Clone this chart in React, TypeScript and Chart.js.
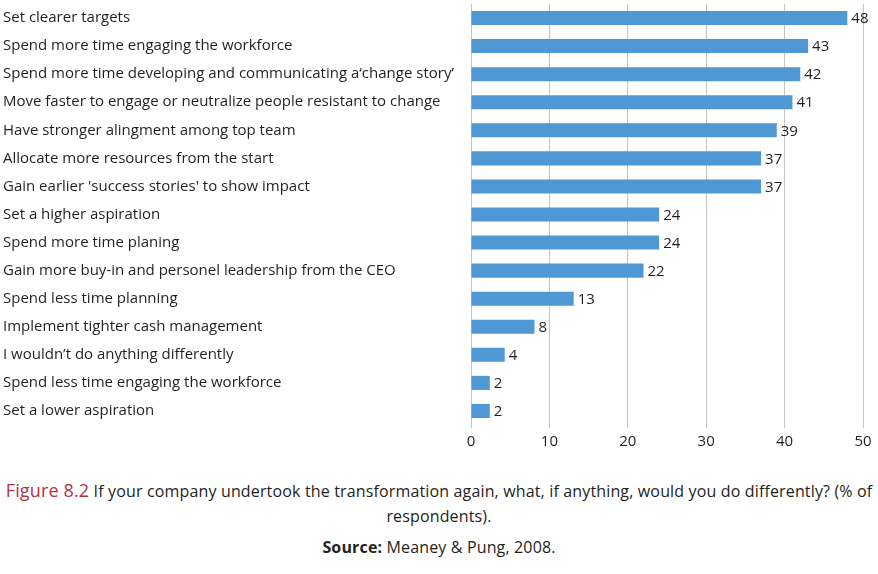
import React, { useEffect, useRef } from "react";
import { Chart, registerables } from "chart.js";

Chart.register(...registerables);

const categories: string[] = [
  "Set clearer targets",
  "Spend more time engaging the workforce",
  "Spend more time developing and communicating a\u2018change story\u2019",
  "Move faster to engage or neutralize people resistant to change",
  "Have stronger alingment among top team",
  "Allocate more resources from the start",
  "Gain earlier 'success stories' to show impact",
  "Set a higher aspiration",
  "Spend more time planing",
  "Gain more buy-in and personel leadership from the CEO",
  "Spend less time planning",
  "Implement tighter cash management",
  "I wouldn\u2019t do anything differently",
  "Spend less time engaging the workforce",
  "Set a lower aspiration",
];

const values: number[] = [48, 43, 42, 41, 39, 37, 37, 24, 24, 22, 13.1, 8.1, 4.3, 2.4, 2.4];

const xTicks: number[] = [0, 10, 20, 30, 40, 50];

const FONT = "'Open Sans', 'Noto Sans', sans-serif";
const TEXT = "#231f20";

const valueLabels = {
  id: "valueLabels",
  afterDatasetsDraw(chart: any) {
    const ctx = chart.ctx;
    const meta = chart.getDatasetMeta(0);
    ctx.save();
    ctx.font = `15px ${FONT}`;
    ctx.fillStyle = TEXT;
    ctx.textAlign = "left";
    ctx.textBaseline = "middle";
    meta.data.forEach((bar: any, i: number) => {
      ctx.fillText(String(Math.round(values[i])), bar.x + 4, bar.y + 1);
    });
    ctx.restore();
  },
};

export default function App() {
  const ref = useRef<HTMLCanvasElement | null>(null);

  useEffect(() => {
    document.body.style.margin = "0";
    if (!ref.current) return;
    const chart = new Chart(ref.current, {
      type: "bar",
      data: {
        labels: categories,
        datasets: [
          {
            data: values,
            backgroundColor: "#4f98d3",
            barPercentage: 0.5,
            categoryPercentage: 1,
          },
        ],
      },
      options: {
        indexAxis: "y",
        animation: false,
        responsive: false,
        maintainAspectRatio: false,
        layout: { padding: { left: 3, right: 15, top: 4, bottom: 0 } },
        plugins: {
          legend: { display: false },
          tooltip: { enabled: false },
        },
        scales: {
          x: {
            min: 0,
            max: 50,
            afterBuildTicks: (scale: any) => {
              scale.ticks = xTicks.map((v) => ({ value: v }));
            },
            afterFit: (scale: any) => {
              scale.height = 35;
              scale.paddingLeft = 0;
              scale.paddingRight = 0;
            },
            grid: {
              color: "#c4c4c4",
              lineWidth: 1,
              drawTicks: true,
              tickLength: 3,
            },
            border: { display: false },
            ticks: {
              padding: 5,
              color: TEXT,
              font: { family: FONT, size: 15 },
            },
          },
          y: {
            afterFit: (scale: any) => {
              scale.width = 468;
              scale.paddingTop = 0;
              scale.paddingBottom = 0;
            },
            grid: { display: false },
            border: { display: false },
            ticks: {
              crossAlign: "far",
              color: TEXT,
              autoSkip: false,
              font: { family: FONT, size: 15 },
            },
          },
        },
      },
      plugins: [valueLabels],
    });
    return () => chart.destroy();
  }, []);

  return (
    <div style={{ width: 878, height: 574, position: "relative", background: "#fff" }}>
      <canvas ref={ref} width={878} height={460} style={{ display: "block" }} />
      <div
        style={{
          position: "absolute",
          top: 478,
          left: 0,
          width: 878,
          textAlign: "center",
          fontFamily: FONT,
          color: TEXT,
          fontSize: 16,
          lineHeight: "25px",
          letterSpacing: "0.15px",
          whiteSpace: "nowrap",
        }}
      >
        <span style={{ color: "#b0333f", fontSize: 18 }}>Figure 8.2</span> If your company
        undertook the transformation again, what, if anything, would you do differently? (% of
        <br />
        respondents).
      </div>
      <div
        style={{
          position: "absolute",
          top: 535,
          left: 0,
          width: 878,
          textAlign: "center",
          fontFamily: FONT,
          color: TEXT,
          fontSize: 16,
          lineHeight: "25px",
          letterSpacing: "0.15px",
        }}
      >
        <b>Source:</b> Meaney &amp; Pung, 2008.
      </div>
    </div>
  );
}
